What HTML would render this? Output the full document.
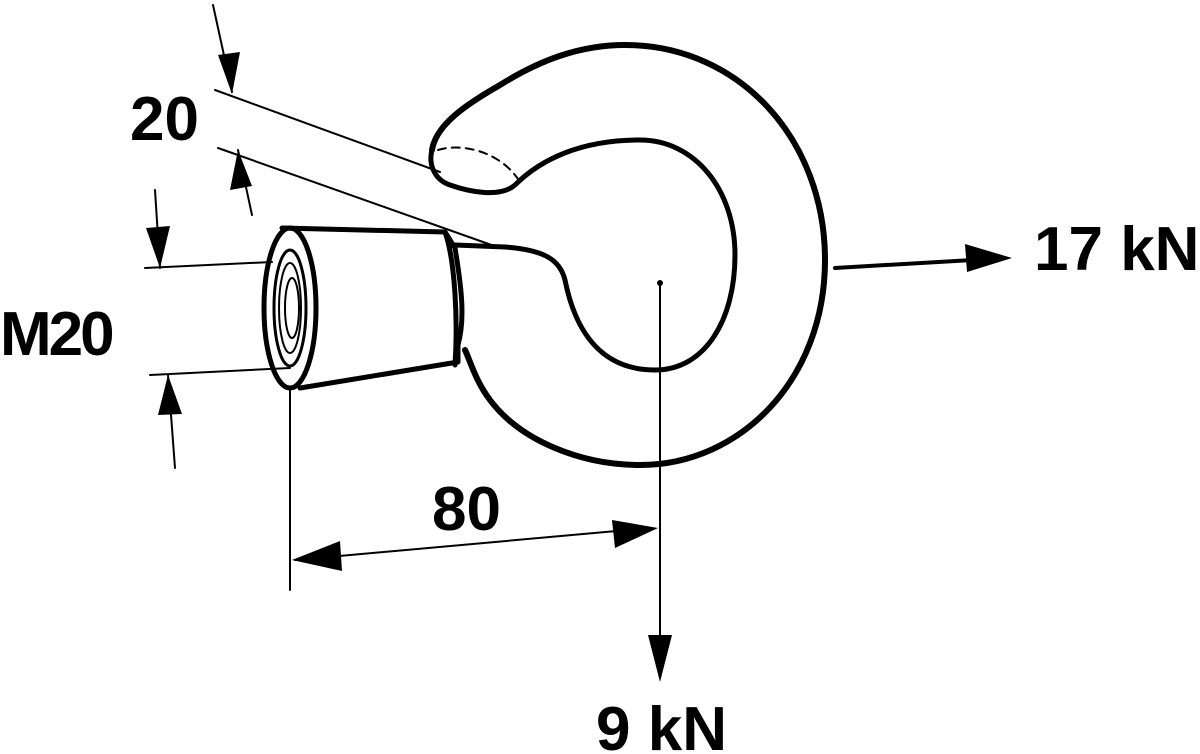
<!DOCTYPE html>
<html><head><meta charset="utf-8"><style>
html,body{margin:0;padding:0;background:#fff;}
svg{display:block;}
text{font-family:"Liberation Sans",sans-serif;font-weight:bold;fill:#000;}
</style></head><body>
<svg width="1200" height="754" viewBox="0 0 1200 754" xmlns="http://www.w3.org/2000/svg">
<g fill="none" stroke="#000" stroke-linecap="round" stroke-linejoin="round">
<path stroke-width="6" d="M432,150 C436,125 465,105 500,85 C540,60 580,45 625,45 C740,45 825,140 825,260 C825,380 740,465 640,465 C580,465 520,440 490,400 C475,380 470,360 465,350"/>
<path stroke-width="5" d="M455,245 L505,247 C545,250 560,260 565,280 C575,330 600,370 655,370 C705,370 735,320 735,255 C735,190 695,140 640,140 C580,140 540,160 515,185 C500,198 470,192 450,185 C435,180 428,165 432,150"/>
<path stroke-width="2" stroke-dasharray="8,6" d="M438,150 C460,143 500,150 520,182"/>
<path stroke-width="5" d="M282,228 L445,232 L455,248 C462,290 465,320 458,345 L458,362 L300,388"/>
<path stroke-width="5" d="M445,232 C455,260 458,320 455,365"/>
<ellipse cx="290" cy="308" rx="26" ry="80" stroke-width="5"/>
<ellipse cx="290" cy="308" rx="16" ry="58" stroke-width="3"/>
<ellipse cx="290" cy="308" rx="11" ry="45" stroke-width="2"/>
<ellipse cx="292" cy="308" rx="7" ry="30" stroke-width="2"/>
<g stroke-width="2">
<line x1="215" y1="90" x2="440" y2="172"/>
<line x1="218" y1="148" x2="500" y2="248"/>
<line x1="213" y1="5" x2="232" y2="92"/>
<line x1="252" y1="215" x2="238" y2="150"/>
<line x1="145" y1="268" x2="272" y2="262"/>
<line x1="150" y1="375" x2="290" y2="368"/>
<line x1="155" y1="190" x2="160" y2="268"/>
<line x1="175" y1="468" x2="168" y2="375"/>
<line x1="290" y1="390" x2="290" y2="590"/>
<line x1="660" y1="283" x2="660" y2="650"/>
<line x1="295" y1="560" x2="650" y2="528"/>
</g>
<line x1="835" y1="268" x2="990" y2="259" stroke-width="4"/>
</g>
<g fill="#000">
<polygon points="232,94 218,55 240,52"/>
<polygon points="238,150 230,190 252,186"/>
<polygon points="160,268 146,228 170,226"/>
<polygon points="168,375 158,415 182,414"/>
<polygon points="292,560 340,541 342,571"/>
<polygon points="658,528 612,520 615,548"/>
<polygon points="660,682 648,635 672,635"/>
<polygon points="1012,258 965,244 967,272"/>
<circle cx="660" cy="283" r="3"/>
</g>
<text x="130" y="140" font-size="62">20</text>
<text x="0" y="355" font-size="62" letter-spacing="-3">M20</text>
<text x="432" y="530" font-size="62">80</text>
<text x="596" y="750" font-size="62">9 kN</text>
<text x="1034" y="270" font-size="62">17 kN</text>
</svg>
</body></html>
